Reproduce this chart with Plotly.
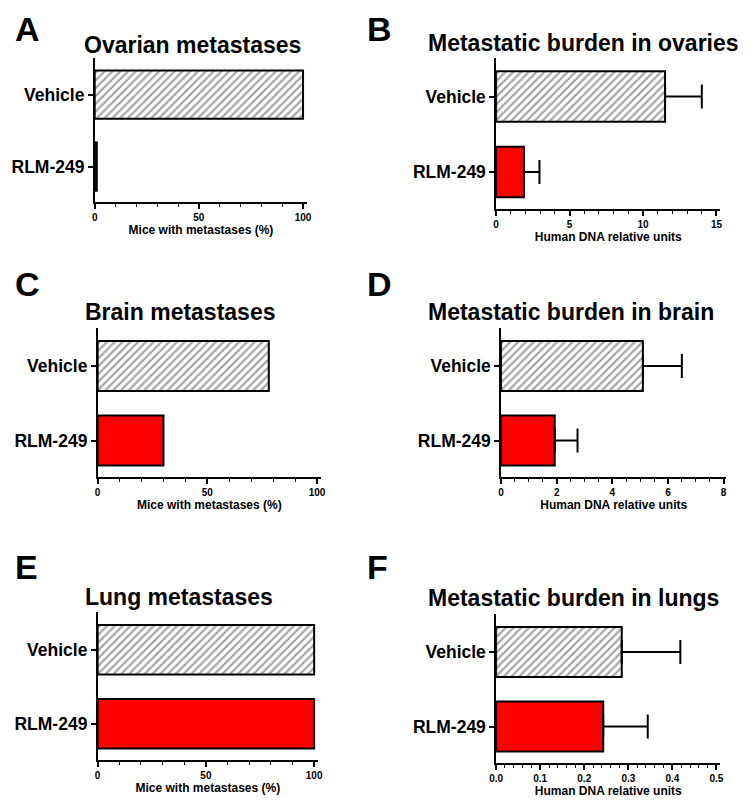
import plotly.graph_objects as go

# page body has an 8px margin, so lay out in page pixels and shift back
OFF = 8
W, H = 745, 792

groups = ["RLM-249", "Vehicle"]

# panel values (RLM-249, Vehicle)
ovary_pct = [1, 100]
ovary_dna = [1.9, 11.5]
ovary_dna_err = [1.05, 2.5]
brain_pct = [30, 78]
brain_dna = [1.93, 5.1]
brain_dna_err = [0.82, 1.4]
lung_pct = [100, 100]
lung_dna = [0.243, 0.285]
lung_dna_err = [0.101, 0.133]

titles = ["Ovarian metastases", "Metastatic burden in ovaries",
          "Brain metastases", "Metastatic burden in brain",
          "Lung metastases", "Metastatic burden in lungs"]
letters = ["A", "B", "C", "D", "E", "F"]
pct_label = "Mice with metastases (%)"
dna_label = "Human DNA relative units"


def px(x):
    return (x - OFF) / W


def py(y):
    return 1 - (y - OFF) / H


# y-axis x / axis end x / plot top y / x-axis y  (page pixels)
panels = [
    dict(v=ovary_pct, e=None, box=(89, 305, 58, 202), rng=[0, 102], dt=50, mt=10, xl=pct_label, fmt=""),
    dict(v=ovary_dna, e=ovary_dna_err, box=(497, 725, 58, 209), rng=[0, 15.27], dt=5, mt=1, xl=dna_label, fmt=""),
    dict(v=brain_pct, e=None, box=(92, 319, 328, 477), rng=[0, 101.8], dt=50, mt=10, xl=pct_label, fmt=""),
    dict(v=brain_dna, e=brain_dna_err, box=(502, 731, 328, 477), rng=[0, 8.1], dt=2, mt=0.5, xl=dna_label, fmt=""),
    dict(v=lung_pct, e=None, box=(92, 316, 612, 760), rng=[0, 101.8], dt=50, mt=10, xl=pct_label, fmt=""),
    dict(v=lung_dna, e=lung_dna_err, box=(497, 725, 614, 763), rng=[0, 0.509], dt=0.1, mt=0.02, xl=dna_label, fmt=".1f"),
]
title_pos = [(76, 45), (426, 43), (77, 312), (426, 312), (77, 597), (426, 598)]
letter_pos = [(6, 8), (364, 8), (6, 263), (364, 263), (6, 546), (364, 546)]

fnt = "Liberation Sans, Arial, sans-serif"
fig = go.Figure()
annos = []
layout = {}

for i, p in enumerate(panels):
    n = "" if i == 0 else str(i + 1)
    x0, x1, yt, yb = p["box"]
    err = None
    if p["e"] is not None:
        err = dict(type="data", symmetric=False, array=p["e"], arrayminus=[0, 0],
                   color="black", thickness=2, width=12)
    fig.add_trace(go.Bar(
        x=p["v"], y=groups, orientation="h", width=0.67,
        marker=dict(color=["#ff0000", "white"],
                    line=dict(color="black", width=2),
                    pattern=dict(shape=["", "/"], fgcolor="black", size=5.5, solidity=0.4)),
        error_x=err, xaxis="x" + n, yaxis="y" + n, showlegend=False))
    layout["xaxis" + n] = dict(
        domain=[px(x0), px(x1)], anchor="y" + n, range=p["rng"],
        showgrid=False, zeroline=False, showline=True, linecolor="black", linewidth=1.5,
        ticks="outside", ticklen=5, tickwidth=1.5, tickcolor="black",
        dtick=p["dt"], tick0=0, tickformat=p["fmt"],
        minor=dict(ticks="outside", ticklen=3, tickwidth=1.2, tickcolor="black", dtick=p["mt"], tick0=0),
        tickfont=dict(family=fnt, size=10, color="black", weight="bold"),
        title=dict(text="<b>" + p["xl"] + "</b>", standoff=2,
                   font=dict(family=fnt, size=12, color="black")),
        fixedrange=True)
    layout["yaxis" + n] = dict(
        domain=[py(yb), py(yt)], anchor="x" + n,
        type="category", categoryorder="array", categoryarray=groups, range=[-0.49, 1.51],
        showgrid=False, zeroline=False, showline=True, linecolor="black", linewidth=1.5,
        ticks="outside", ticklen=5, tickwidth=1.5, tickcolor="black",
        tickfont=dict(family=fnt, size=17.5, color="black", weight="bold"),
        fixedrange=True)
    tx, ty = title_pos[i]
    annos.append(dict(text="<b>" + titles[i] + "</b>", x=px(tx), y=py(ty),
                      xref="paper", yref="paper", xanchor="left", yanchor="middle",
                      showarrow=False, font=dict(family=fnt, size=23, color="black")))
    lx, ly = letter_pos[i]
    annos.append(dict(text="<b>" + letters[i] + "</b>", x=px(lx), y=py(ly),
                      xref="paper", yref="paper", xanchor="left", yanchor="top",
                      showarrow=False, font=dict(family=fnt, size=34, color="black")))

fig.update_layout(width=W, height=H, margin=dict(l=0, r=0, t=0, b=0),
                  paper_bgcolor="white", plot_bgcolor="white",
                  annotations=annos, **layout)

fig.write_html("out.html")
